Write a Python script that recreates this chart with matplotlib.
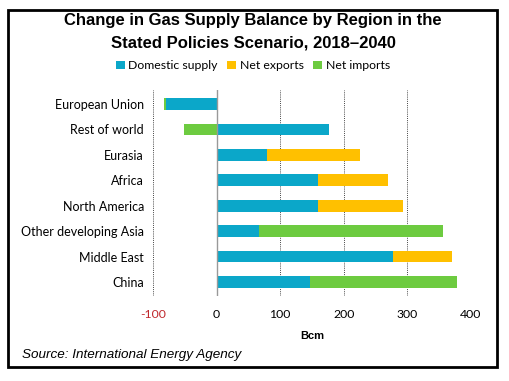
import numpy as np
import matplotlib
matplotlib.use("Agg")
import matplotlib.pyplot as plt
from matplotlib.patches import Rectangle

# data (Bcm)
regions = ["European Union", "Rest of world", "Eurasia", "Africa",
           "North America", "Other developing Asia", "Middle East", "China"]
domestic = [-79, 177, 79, 160, 160, 66, 277, 147]
net_exports = [0, 0, 146, 109, 133, 0, 94, 0]
net_imports = [-4, -51, 0, 0, 0, 290, 0, 231]
xticks = [-100, 0, 100, 200, 300, 400]

c_dom = "#0BA7C9"
c_exp = "#FFC000"
c_imp = "#6DCB40"

tick_font = "Lato"

fig = plt.figure(figsize=(5.09, 3.81), dpi=100)
ax = fig.add_axes([0.3006, 0.223, 0.6244, 0.541])

y = np.arange(len(regions))[::-1]
h = 0.46


def stack_left(base, vals):
    return [b if (v * b > 0) else 0 for b, v in zip(base, vals)]


ax.barh(y, domestic, height=h, color=c_dom, label="Domestic supply", zorder=3)
ax.barh(y, net_exports, left=stack_left(domestic, net_exports), height=h,
        color=c_exp, label="Net exports", zorder=3)
ax.barh(y, net_imports, left=stack_left(domestic, net_imports), height=h,
        color=c_imp, label="Net imports", zorder=3)

ax.set_xlim(-100, 400)
ax.set_ylim(-0.55, len(regions) - 0.45)
ax.set_xticks(xticks)
ax.set_xticklabels([str(t) for t in xticks], fontsize=8.8, family=tick_font)
ax.get_xticklabels()[0].set_color("#C0282D")
ax.set_yticks(y)
ax.set_yticklabels(regions, fontsize=9, family=tick_font)
ax.tick_params(axis="both", length=0)
ax.tick_params(axis="x", pad=9)
ax.tick_params(axis="y", pad=6.5)

for s in ax.spines.values():
    s.set_visible(False)
for t in [-100, 100, 200, 300, 400]:
    ax.axvline(t, color="#444444", linestyle=(0, (1, 1.2)), linewidth=0.7, zorder=1)
ax.axvline(0, color="#999999", linewidth=1.0, zorder=4)

ax.set_xlabel("Bcm", fontsize=8, fontweight="bold", family="Liberation Sans", labelpad=8)

fig.text(0.497, 0.947, "Change in Gas Supply Balance by Region in the",
         ha="center", va="center", fontsize=12, fontweight="bold", family="Liberation Sans")
fig.text(0.497, 0.887, "Stated Policies Scenario, 2018\u20132040",
         ha="center", va="center", fontsize=12, fontweight="bold", family="Liberation Sans")

fig.legend(loc="center", bbox_to_anchor=(0.497, 0.827), ncol=3, frameon=False,
           prop={"family": tick_font, "size": 8.8}, handlelength=0.7, handleheight=0.7,
           handletextpad=0.3, columnspacing=0.8, borderaxespad=0)

fig.text(0.043, 0.068, "Source: International Energy Agency", ha="left", va="center",
         fontsize=9.7, style="italic", family="Liberation Sans")

fig.patches.append(Rectangle((0.0157, 0.0367), 0.9603, 0.937, transform=fig.transFigure,
                             fill=False, edgecolor="black", linewidth=2))

fig.savefig("out.png", dpi=100)
